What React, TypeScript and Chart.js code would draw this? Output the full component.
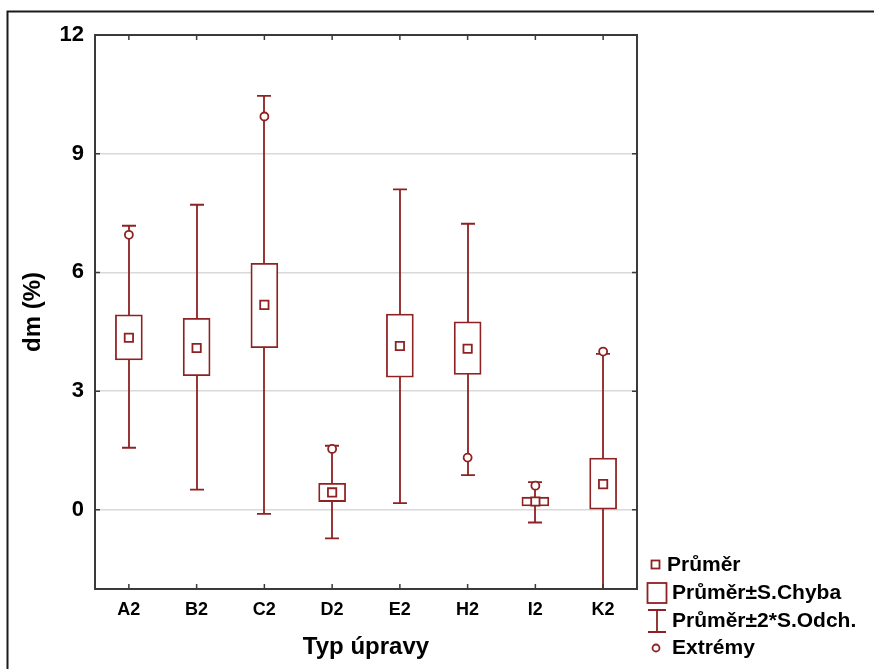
import React, { useEffect, useRef } from "react";
import { Chart, registerables } from "chart.js";

Chart.register(...registerables);

const CATEGORIES = ["A2", "B2", "C2", "D2", "E2", "H2", "I2", "K2"];
const MEAN = [4.35, 4.09, 5.18, 0.44, 4.14, 4.07, 0.21, 0.65];
const SE_LOW = [3.79, 3.39, 4.1, 0.21, 3.35, 3.42, 0.1, 0.0];
const SE_HIGH = [4.93, 4.84, 6.23, 0.67, 4.95, 4.75, 0.32, 1.31];
const SD_LOW = [1.57, 0.51, -0.1, -0.72, 0.17, 0.88, -0.32, -2.64];
const SD_HIGH = [7.18, 7.71, 10.46, 1.62, 8.1, 7.23, 0.7, 3.94];
const EXTREMES: (number | null)[] = [6.95, null, 9.94, 1.54, null, 1.32, 0.61, 4.0];
const Y_TICKS = [0, 3, 6, 9, 12];
const LEGEND_LABELS = ["Průměr", "Průměr±S.Chyba", "Průměr±2*S.Odch.", "Extrémy"];

const RED = "#8e2222";
const FONT = "'Liberation Sans', Arial, sans-serif";
const LW = 1.8;

const whiskerPlugin = {
  id: "whiskers",
  beforeDatasetsDraw(chart: any) {
    const { ctx, chartArea, scales } = chart;
    const xs = scales.x;
    const ys = scales.y;
    ctx.save();
    ctx.beginPath();
    ctx.rect(chartArea.left, chartArea.top, chartArea.right - chartArea.left, chartArea.bottom - chartArea.top);
    ctx.clip();
    ctx.strokeStyle = RED;
    ctx.lineWidth = LW;
    const cap = 7;
    CATEGORIES.forEach((_, i) => {
      const x = Math.round(xs.getPixelForValue(i));
      const yt = ys.getPixelForValue(SD_HIGH[i]);
      const yb = ys.getPixelForValue(SD_LOW[i]);
      ctx.beginPath();
      ctx.moveTo(x, yt);
      ctx.lineTo(x, yb);
      ctx.moveTo(x - cap, yt);
      ctx.lineTo(x + cap, yt);
      ctx.moveTo(x - cap, yb);
      ctx.lineTo(x + cap, yb);
      ctx.stroke();
    });
    ctx.restore();
  },
};

const framePlugin = {
  id: "frame",
  afterDraw(chart: any) {
    const { ctx, chartArea, scales } = chart;
    const { left, right, top, bottom } = chartArea;
    ctx.save();
    // outer frame
    ctx.strokeStyle = "#1a1a1a";
    ctx.lineWidth = 2;
    ctx.beginPath();
    ctx.moveTo(7.5, 669);
    ctx.lineTo(7.5, 11.5);
    ctx.lineTo(874, 11.5);
    ctx.stroke();
    // plot box
    ctx.strokeStyle = "#3a3a3a";
    ctx.lineWidth = 2;
    ctx.strokeRect(left, top, right - left, bottom - top);
    // inward ticks
    ctx.lineWidth = 1.5;
    ctx.beginPath();
    Y_TICKS.forEach((v) => {
      const y = scales.y.getPixelForValue(v);
      ctx.moveTo(left, y);
      ctx.lineTo(left + 5, y);
      ctx.moveTo(right, y);
      ctx.lineTo(right - 5, y);
    });
    CATEGORIES.forEach((_, i) => {
      const x = scales.x.getPixelForValue(i);
      ctx.moveTo(x, top);
      ctx.lineTo(x, top + 5);
      ctx.moveTo(x, bottom);
      ctx.lineTo(x, bottom - 5);
    });
    ctx.stroke();

    // legend
    ctx.font = `bold 21px ${FONT}`;
    ctx.fillStyle = "#000";
    ctx.textBaseline = "middle";
    ctx.textAlign = "left";
    ctx.strokeStyle = RED;
    ctx.lineWidth = LW;
    const rows = [565, 593, 621, 648];
    ctx.strokeRect(651.5, rows[0] - 4.5, 8, 8);
    ctx.fillText(LEGEND_LABELS[0], 667, rows[0]);
    ctx.strokeRect(647.5, rows[1] - 10, 19, 20);
    ctx.fillText(LEGEND_LABELS[1], 672, rows[1]);
    ctx.beginPath();
    ctx.moveTo(657, rows[2] - 11);
    ctx.lineTo(657, rows[2] + 11);
    ctx.moveTo(648, rows[2] - 11);
    ctx.lineTo(666, rows[2] - 11);
    ctx.moveTo(648, rows[2] + 11);
    ctx.lineTo(666, rows[2] + 11);
    ctx.stroke();
    ctx.fillText(LEGEND_LABELS[2], 672, rows[2]);
    ctx.beginPath();
    ctx.arc(656, rows[3], 3.5, 0, Math.PI * 2);
    ctx.stroke();
    ctx.fillText(LEGEND_LABELS[3], 672, rows[3]);
    ctx.restore();
  },
};

export default function App() {
  const ref = useRef<HTMLCanvasElement | null>(null);

  useEffect(() => {
    if (!ref.current) return;
    const chart = new Chart(ref.current, {
      type: "bar",
      data: {
        labels: CATEGORIES,
        datasets: [
          {
            type: "line",
            label: "Extrémy",
            data: EXTREMES as any,
            showLine: false,
            pointStyle: "circle",
            pointRadius: 4,
            pointBackgroundColor: "#ffffff",
            pointBorderColor: RED,
            pointBorderWidth: LW,
            order: 0,
          } as any,
          {
            type: "line",
            label: "Průměr",
            data: MEAN,
            showLine: false,
            pointStyle: "rect",
            pointRadius: 5.9,
            pointBackgroundColor: "#ffffff",
            pointBorderColor: RED,
            pointBorderWidth: LW,
            order: 1,
          } as any,
          {
            type: "bar",
            label: "Průměr±S.Chyba",
            data: SE_LOW.map((lo, i) => [lo, SE_HIGH[i]]) as any,
            backgroundColor: "#ffffff",
            borderColor: RED,
            borderWidth: LW,
            borderSkipped: false,
            barThickness: 27,
            order: 3,
          } as any,
        ],
      },
      options: {
        responsive: false,
        animation: false,
        layout: { padding: { left: 0, top: 35, right: 237, bottom: 0 } },
        plugins: {
          legend: { display: false },
          tooltip: { enabled: false },
        },
        scales: {
          x: {
            type: "category",
            offset: true,
            grid: { display: false, drawTicks: false },
            border: { display: false },
            ticks: {
              color: "#000",
              padding: 10,
              font: { family: FONT, size: 18, weight: "bold" },
            },
            title: {
              display: true,
              text: "Typ úpravy",
              color: "#000",
              font: { family: FONT, size: 24, weight: "bold" },
              padding: { top: 0, bottom: 7 },
            },
            afterFit(scale: any) {
              scale.height = 80;
            },
          },
          y: {
            type: "linear",
            min: -2,
            max: 12,
            afterBuildTicks(scale: any) {
              scale.ticks = Y_TICKS.map((v) => ({ value: v }));
            },
            grid: { color: "#d9d9d9", lineWidth: 1.5, drawTicks: false },
            border: { display: false },
            ticks: {
              color: "#000",
              padding: 11,
              font: { family: FONT, size: 22, weight: "bold" },
            },
            title: {
              display: true,
              text: "dm (%)",
              color: "#000",
              font: { family: FONT, size: 24, weight: "bold" },
              padding: { top: 19, bottom: 0 },
            },
            afterFit(scale: any) {
              scale.width = 95;
            },
          },
        },
      } as any,
      plugins: [whiskerPlugin, framePlugin],
    });
    return () => chart.destroy();
  }, []);

  return (
    <div style={{ position: "absolute", left: 0, top: 0, width: 874, height: 669, background: "#fff" }}>
      <canvas ref={ref} width={874} height={669} style={{ display: "block" }} />
    </div>
  );
}
